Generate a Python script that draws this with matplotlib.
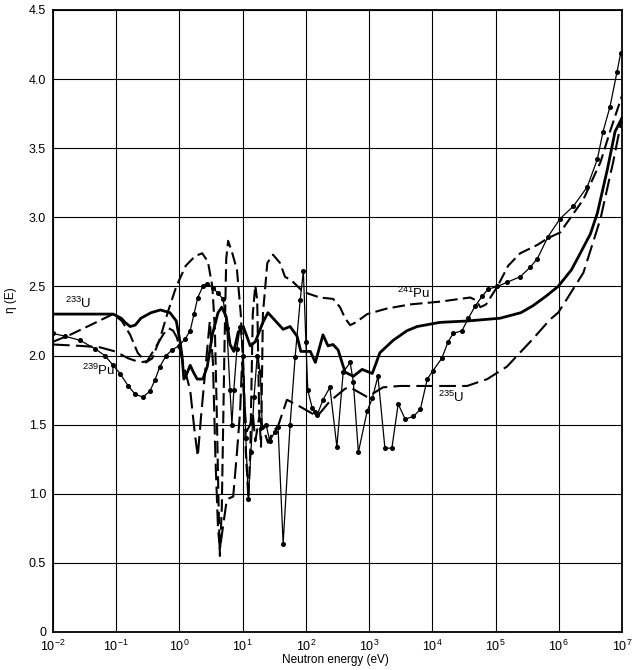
import numpy as np
import matplotlib
matplotlib.use('Agg')
import matplotlib.pyplot as plt
from matplotlib.ticker import NullLocator, FixedLocator, FixedFormatter

plt.rcParams['font.family'] = ['Liberation Sans', 'DejaVu Sans']
plt.rcParams['mathtext.fontset'] = 'custom'
plt.rcParams['mathtext.rm'] = 'Liberation Sans'
plt.rcParams['mathtext.it'] = 'Liberation Sans:italic'
plt.rcParams['mathtext.bf'] = 'Liberation Sans:bold'

# log10(neutron energy / eV) and eta
u233_loge = [-2.0, -1.5, -1.05, -0.92, -0.86, -0.78, -0.70, -0.61, -0.45, -0.30,
             -0.15, -0.05, 0.01, 0.04, 0.07, 0.10, 0.17, 0.22, 0.28, 0.37,
             0.44, 0.52, 0.61, 0.67, 0.74, 0.80, 0.86, 0.93, 1.01, 1.12,
             1.20, 1.32, 1.40, 1.54, 1.64, 1.75, 1.86, 1.92, 2.07, 2.15,
             2.27, 2.35, 2.43, 2.51, 2.62, 2.75, 2.89, 3.05, 3.17, 3.38,
             3.60, 3.76, 4.12, 4.55, 5.07, 5.40, 5.59, 5.80, 5.99, 6.20,
             6.34, 6.50, 6.61, 6.77, 6.89, 7.0]
u233_eta = [2.30, 2.30, 2.30, 2.27, 2.24, 2.21, 2.22, 2.27, 2.31, 2.33,
            2.31, 2.25, 2.10, 2.00, 1.83, 1.85, 1.93, 1.88, 1.83, 1.83,
            1.92, 2.15, 2.31, 2.35, 2.28, 2.08, 2.03, 2.17, 2.21, 2.07,
            2.10, 2.24, 2.31, 2.24, 2.19, 2.21, 2.14, 2.03, 2.03, 1.95,
            2.15, 2.07, 2.08, 2.04, 1.88, 1.85, 1.90, 1.87, 2.02, 2.11,
            2.18, 2.21, 2.24, 2.25, 2.27, 2.31, 2.36, 2.43, 2.50, 2.62,
            2.74, 2.88, 3.03, 3.35, 3.62, 3.72]

u235_loge = [-2.0, -1.57, -1.26, -1.02, -0.81, -0.62, -0.51, -0.39, -0.26, -0.18,
             -0.10, -0.04, 0.03, 0.07, 0.17, 0.24, 0.29, 0.34, 0.42, 0.48,
             0.53, 0.57, 0.61, 0.64, 0.70, 0.75, 0.85, 0.91, 0.96, 0.99,
             1.02, 1.06, 1.12, 1.16, 1.20, 1.26, 1.32, 1.40, 1.48, 1.56,
             1.70, 1.91, 2.18, 2.38, 2.54, 2.62, 2.70, 2.97, 3.22, 3.49,
             4.12, 4.55, 4.87, 5.18, 5.59, 5.86, 5.99, 6.13, 6.39, 6.66,
             6.86, 7.0]
u235_eta = [2.08, 2.07, 2.06, 2.03, 1.98, 1.95, 1.96, 2.05, 2.15, 2.20,
            2.18, 2.13, 2.00, 1.92, 1.75, 1.45, 1.27, 1.55, 1.95, 2.25,
            1.95, 1.25, 0.75, 0.60, 0.80, 0.96, 0.98, 1.30, 1.60, 1.95,
            1.70, 1.45, 1.50, 1.58, 1.38, 1.55, 1.48, 1.37, 1.45, 1.49,
            1.68, 1.63, 1.56, 1.67, 1.73, 1.76, 1.77, 1.70, 1.77, 1.78,
            1.78, 1.78, 1.83, 1.92, 2.12, 2.26, 2.31, 2.41, 2.60, 2.99,
            3.40, 3.72]

pu239_loge = [-2.0, -1.81, -1.57, -1.34, -1.18, -1.05, -0.94, -0.81, -0.70, -0.58,
              -0.47, -0.39, -0.31, -0.21, -0.12, -0.01, 0.09, 0.17, 0.23, 0.29,
              0.37, 0.44, 0.53, 0.61, 0.69, 0.75, 0.80, 0.83, 0.86, 0.91,
              0.96, 1.01, 1.05, 1.09, 1.13, 1.18, 1.23, 1.28, 1.31, 1.37,
              1.43, 1.51, 1.56, 1.64, 1.75, 1.83, 1.91, 1.96, 2.00, 2.03,
              2.10, 2.15, 2.18, 2.27, 2.38, 2.49, 2.59, 2.70, 2.75, 2.83,
              2.97, 3.05, 3.14, 3.25, 3.36, 3.46, 3.57, 3.70, 3.81, 3.92,
              4.01, 4.15, 4.25, 4.33, 4.47, 4.57, 4.68, 4.79, 4.88, 5.03,
              5.18, 5.39, 5.55, 5.66, 5.83, 6.02, 6.23, 6.45, 6.61, 6.70,
              6.81, 6.92, 6.98]
pu239_eta = [2.16, 2.14, 2.11, 2.05, 2.00, 1.93, 1.87, 1.78, 1.72, 1.70,
             1.74, 1.82, 1.92, 2.00, 2.04, 2.07, 2.12, 2.18, 2.30, 2.42,
             2.50, 2.52, 2.49, 2.45, 2.41, 2.20, 1.75, 1.50, 1.75, 2.05,
             2.21, 2.00, 1.40, 0.96, 1.30, 1.70, 2.00, 1.88, 1.48, 1.50,
             1.38, 1.45, 1.48, 0.64, 1.50, 1.99, 2.40, 2.61, 2.10, 1.75,
             1.62, 1.59, 1.57, 1.68, 1.77, 1.34, 1.88, 1.95, 1.81, 1.30,
             1.60, 1.69, 1.85, 1.33, 1.33, 1.65, 1.54, 1.56, 1.61, 1.83,
             1.89, 1.98, 2.10, 2.16, 2.18, 2.27, 2.36, 2.43, 2.48, 2.50,
             2.53, 2.57, 2.64, 2.70, 2.86, 2.99, 3.08, 3.22, 3.42, 3.62,
             3.80, 4.05, 4.19]

pu241_loge = [-2.0, -1.73, -1.41, -1.05, -0.91, -0.78, -0.66, -0.53, -0.43, -0.31,
              -0.18, -0.05, 0.10, 0.25, 0.36, 0.45, 0.52, 0.56, 0.59, 0.62,
              0.64, 0.67, 0.71, 0.74, 0.77, 0.83, 0.91, 0.97, 1.02, 1.05,
              1.09, 1.12, 1.16, 1.20, 1.23, 1.26, 1.29, 1.32, 1.39, 1.48,
              1.59, 1.67, 1.78, 1.96, 2.22, 2.43, 2.54, 2.62, 2.70, 2.79,
              2.97, 3.28, 3.65, 4.12, 4.60, 4.69, 4.76, 4.85, 5.03, 5.20,
              5.39, 5.66, 5.83, 6.02, 6.39, 6.66, 6.81, 7.0]
pu241_eta = [2.10, 2.15, 2.22, 2.30, 2.25, 2.15, 2.02, 1.95, 1.98, 2.12,
             2.32, 2.50, 2.65, 2.72, 2.74, 2.68, 2.50, 2.20, 1.60, 0.90,
             0.55, 0.90, 2.00, 2.70, 2.83, 2.75, 2.62, 2.30, 1.80, 1.30,
             0.97, 1.30, 2.30, 2.51, 2.40, 1.60, 1.34, 2.30, 2.67, 2.73,
             2.67, 2.57, 2.54, 2.46, 2.42, 2.41, 2.35, 2.27, 2.22, 2.24,
             2.30, 2.34, 2.37, 2.39, 2.42, 2.40, 2.35, 2.37, 2.50, 2.65,
             2.74, 2.80, 2.85, 2.89, 3.13, 3.40, 3.62, 3.88]

y_ticks = [0, 0.5, 1.0, 1.5, 2.0, 2.5, 3.0, 3.5, 4.0, 4.5]
y_ticklabels = ['0', '0.5', '1.0', '1.5', '2.0', '2.5', '3.0', '3.5', '4.0', '4.5']

fig = plt.figure(figsize=(6.33, 6.70), dpi=100)
ax = fig.add_axes([53 / 633, 38 / 670, 569 / 633, 622 / 670])

ax.plot(10 ** np.array(u233_loge), u233_eta, color='black', lw=2.0,
        solid_joinstyle='round')
ax.plot(10 ** np.array(u235_loge), u235_eta, color='black', lw=1.5,
        ls=(0, (8, 3)))
ax.plot(10 ** np.array(pu239_loge), pu239_eta, color='black', lw=0.9,
        marker='o', ms=2.6)
ax.plot(10 ** np.array(pu241_loge), pu241_eta, color='black', lw=1.5,
        ls=(0, (6, 2.5)))

ax.set_xscale('log')
ax.set_xlim(1e-2, 1e7)
ax.set_ylim(0, 4.5)
ax.set_xticks([10.0 ** k for k in range(-2, 8)])
ax.xaxis.set_minor_locator(NullLocator())
ax.yaxis.set_major_locator(FixedLocator(y_ticks))
ax.yaxis.set_major_formatter(FixedFormatter(y_ticklabels))
ax.tick_params(length=0, labelsize=9, pad=5)
ax.grid(True, color='black', lw=0.8)
ax.set_axisbelow(True)
for s in ax.spines.values():
    s.set_linewidth(1.3)

ax.set_xlabel('Neutron energy (eV)', fontsize=8.5)
ax.xaxis.set_label_coords(0.496, -0.036)
ax.set_ylabel('η (E)', fontsize=8.5)
ax.yaxis.set_label_coords(-0.063, 0.534)

# curve labels
ax.text(10 ** -1.81, 2.38, '$^{233}$U', fontsize=9.5, va='center', ha='left')
ax.text(10 ** -1.54, 1.89, '$^{239}$Pu', fontsize=9.5, va='center', ha='left')
ax.text(10 ** 3.44, 2.45, '$^{241}$Pu', fontsize=9.5, va='center', ha='left')
ax.text(10 ** 4.09, 1.70, '$^{235}$U', fontsize=9.5, va='center', ha='left')

fig.savefig('out.png', dpi=100)
